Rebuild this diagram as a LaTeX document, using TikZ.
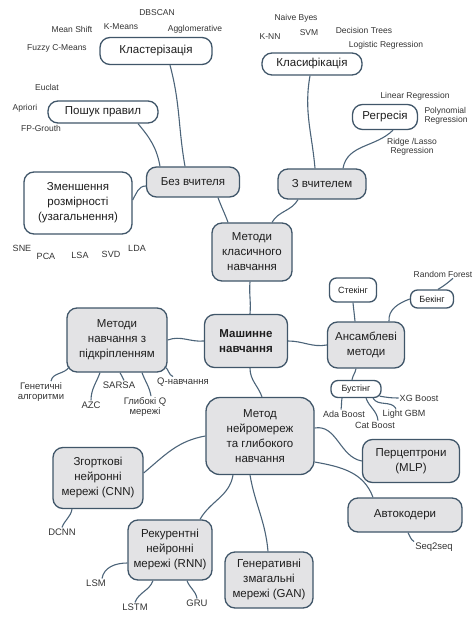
\documentclass[tikz,border=0pt]{standalone}
\usepackage{fontspec}
\setmainfont{Liberation Sans}
\definecolor{edgec}{HTML}{405669}
\definecolor{boxfill}{HTML}{E3E3E5}
\definecolor{linec}{HTML}{4C6479}
\definecolor{txtc}{HTML}{1E1E1E}
\definecolor{lblc}{HTML}{333333}
\begin{document}
\begin{tikzpicture}[x=1pt,y=-1pt,
  box/.style={draw=edgec, line width=1.3pt, rounded corners=10pt, fill=boxfill, align=center,
    font=\fontsize{11.5}{15}\selectfont, text=txtc, inner sep=2pt},
  wbox/.style={box, fill=white},
  sbox/.style={wbox, font=\fontsize{9}{11}\selectfont, rounded corners=7pt},
  lbl/.style={font=\fontsize{8.5}{9.5}\selectfont, text=lblc, align=center, inner sep=1pt},
  lblm/.style={lbl, font=\fontsize{9}{10}\selectfont},
  lblb/.style={lbl, font=\fontsize{9.5}{10.5}\selectfont},
  con/.style={draw=linec, line width=1.1pt}]
\useasboundingbox (0,0) rectangle (472,617);

% white category nodes
\node[wbox, minimum width=112pt, minimum height=27pt] (klast) at (156,51) {Кластерізація};
\node[wbox, minimum width=110pt, minimum height=22pt] (poshuk) at (103,112) {Пошук правил};
\node[wbox, minimum width=108pt, minimum height=62pt] (zmen) at (78,203) {Зменшення\\розмірності\\(узагальнення)};
\node[wbox, minimum width=100pt, minimum height=22pt] (klas) at (312,64) {Класифікація};
\node[wbox, minimum width=65pt, minimum height=25pt] (regr) at (385,117) {Регресія};
\node[sbox, minimum width=47pt, minimum height=24pt] (stek) at (353,290) {Стекінг};
\node[sbox, minimum width=43pt, minimum height=18pt] (bek) at (432,299) {Бекінг};
\node[sbox, minimum width=50pt, minimum height=17pt] (bust) at (356,389) {Бустінг};

% grey nodes
\node[box, minimum width=93pt, minimum height=30pt] (bez) at (193,182) {Без вчителя};
\node[box, minimum width=88pt, minimum height=30pt] (zv) at (322,184) {З вчителем};
\node[box, minimum width=80pt, minimum height=58pt] (metclas) at (252,252) {Методи\\класичного\\навчання};
\node[box, minimum width=83pt, minimum height=53pt, font=\fontsize{11.5}{15}\selectfont\bfseries] (mash) at (246,341) {Машинне\\навчання};
\node[box, minimum width=100pt, minimum height=64pt] (rl) at (117,340) {Методи\\навчання з\\підкріпленням};
\node[box, minimum width=77pt, minimum height=46pt] (ans) at (366,345) {Ансамблеві\\методи};
\node[box, minimum width=108pt, minimum height=77pt, rounded corners=14pt] (metnn) at (260,436) {Метод\\нейромереж\\та глибокого\\навчання};
\node[box, minimum width=97pt, minimum height=43pt] (perc) at (411,461) {Перцептрони\\(MLP)};
\node[box, minimum width=114pt, minimum height=34pt] (avto) at (405,515) {Автокодери};
\node[box, minimum width=88pt, minimum height=56pt] (gan) at (269,580) {Генеративні\\змагальні\\мережі (GAN)};
\node[box, minimum width=90pt, minimum height=61pt] (cnn) at (98,478) {Згорткові\\нейронні\\мережі (CNN)};
\node[box, minimum width=84pt, minimum height=60pt] (rnn) at (170,550) {Рекурентні\\нейронні\\мережі (RNN)};

% labels: clustering
\node[lbl] (dbscan) at (157,13) {DBSCAN};
\node[lbl] (kmeans) at (121,27) {K-Means};
\node[lbl] (meansh) at (72,29) {Mean Shift};
\node[lbl] (aggl) at (195,29) {Agglomerative};
\node[lbl] (fuzzy) at (57,48) {Fuzzy C-Means};
% labels: rules
\node[lbl] (euclat) at (47,87) {Euclat};
\node[lbl] (apriori) at (25,108) {Apriori};
\node[lbl] (fpg) at (41,128) {FP-Grouth};
% labels: classification
\node[lbl] (nbayes) at (296,18) {Naive Byes};
\node[lbl] (knn) at (270,37) {K-NN};
\node[lbl] (svm) at (309,33) {SVM};
\node[lbl] (dtree) at (364,30) {Decision Trees};
\node[lbl] (logreg) at (386,45) {Logistic Regression};
% labels: regression
\node[lbl] (linreg) at (415,96) {Linear Regression};
\node[lbl, align=left] (polyreg) at (446,116) {Polynomial\\Regression};
\node[lbl] (ridge) at (412,147) {Ridge /Lasso\\Regression};
% labels: dimension reduction
\node[lblm] (sne) at (22,248) {SNE};
\node[lblm] (pca) at (46,256) {PCA};
\node[lblm] (lsa) at (80,255) {LSA};
\node[lblm] (svd) at (111,254) {SVD};
\node[lblm] (lda) at (137,248) {LDA};
% labels: RL
\node[lblb] (gen) at (41,392) {Генетичні\\алгоритми};
\node[lblb] (azc) at (91,405) {AZC};
\node[lblb] (sarsa) at (119,385) {SARSA};
\node[lblb] (glq) at (145,407) {Глибокі Q\\мережі};
\node[lblb] (qn) at (183,382) {Q-навчання};
% labels: ensembles
\node[lbl] (rf) at (443,274) {Random Forest};
\node[lblm] (xg) at (419,398) {XG Boost};
\node[lblm] (lgbm) at (404,414) {Light GBM};
\node[lblm] (ada) at (344,414) {Ada Boost};
\node[lblm] (catb) at (375,425) {Cat Boost};
% labels: NN
\node[lblb] (dcnn) at (62,532) {DCNN};
\node[lblb] (lsm) at (96,583) {LSM};
\node[lblb] (lstm) at (135,607) {LSTM};
\node[lblb] (gru) at (197,603) {GRU};
\node[lblb] (seq) at (434,547) {Seq2seq};

% connectors
\draw[con] ([xshift=14pt]klast.south) to[out=-75,in=100] ([xshift=-8pt]bez.north);
\draw[con] ([xshift=35pt]poshuk.south) to[out=-50,in=100] ([xshift=-33pt]bez.north);
\draw[con] ([yshift=3pt]zmen.east) to[out=60,in=180] ([yshift=-4pt]bez.west);
\draw[con] ([xshift=25pt]bez.south) to[out=-70,in=110] ([xshift=-24pt]metclas.north);
\draw[con] ([xshift=-2pt]klas.south) to[out=-100,in=95] ([xshift=-7pt]zv.north);
\draw[con] ([xshift=8pt]regr.south) to[out=-135,in=80] ([xshift=21pt]zv.north);
\draw[con] ([xshift=-24pt]zv.south) to[out=-120,in=60] ([xshift=20pt]metclas.north);
\draw[con] ([xshift=-2pt]metclas.south) to[out=-95,in=85] ([xshift=4pt]mash.north);
\draw[con] (rl.east) to[out=20,in=185] (mash.west);
\draw[con] (mash.east) to[out=0,in=190] (ans.west);
\draw[con] ([xshift=4pt]mash.south) to[out=-90,in=110] ([xshift=2pt]metnn.north);
\draw[con] (stek.south) to[out=-85,in=95] ([xshift=-11pt]ans.north);
\draw[con] (bek.west) to[out=200,in=95] ([xshift=23pt]ans.north);
\draw[con] ([xshift=10pt]rf.south) to[out=-140,in=30] ([xshift=6pt]bek.north);
\draw[con] ([xshift=-10pt]ans.south) to[out=-100,in=80] ([xshift=-4pt]bust.north);
\draw[con] ([xshift=-2pt,yshift=2pt]bust.south east) to[out=-10,in=180] (xg.west);
\draw[con] ([xshift=17pt]bust.south) to[out=-60,in=120] ([xshift=-8pt]lgbm.north);
\draw[con] ([xshift=10pt]bust.south) to[out=-70,in=95] ([xshift=3pt]catb.north);
\draw[con] ([xshift=-14pt]bust.south) to[out=-100,in=80] ([xshift=-3pt]ada.north);
\draw[con] ([yshift=8pt]metnn.east) to[out=10,in=170] (perc.west);
\draw[con] ([yshift=-26pt]metnn.east) to[out=-10,in=110] ([xshift=-32pt]avto.north);
\draw[con] ([xshift=3pt]avto.south) to[out=-60,in=150] (seq.north west);
\draw[con] ([xshift=-10pt]metnn.south) to[out=-80,in=95] ([xshift=-1pt]gan.north);
\draw[con] ([xshift=-27pt]metnn.south) to[out=-100,in=60] ([xshift=30pt]rnn.north);
\draw[con] (metnn.west) to[out=190,in=40] ([yshift=5pt]cnn.east);
\draw[con] ([xshift=-26pt]cnn.south) to[out=-100,in=70] (dcnn.north);
\draw[con] ([yshift=-13pt]rnn.west) to[out=180,in=80] ([xshift=6pt]lsm.north);
\draw[con] ([xshift=-17pt]rnn.south) to[out=-110,in=70] (lstm.north);
\draw[con] ([xshift=17pt]rnn.south) to[out=-70,in=100] (gru.north);
\draw[con] ([xshift=3pt,yshift=6pt]rl.south west) to[out=-120,in=80] ([xshift=10pt]gen.north);
\draw[con] ([xshift=-17pt]rl.south) to[out=-110,in=90] (azc.north);
\draw[con] ([xshift=3pt]rl.south) to[out=-75,in=100] ([xshift=5pt]sarsa.north);
\draw[con] ([xshift=25pt]rl.south) to[out=-70,in=100] ([xshift=6pt]glq.north);
\draw[con] ([xshift=-3pt,yshift=6pt]rl.south east) to[out=-30,in=160] ([xshift=-10pt]qn.north);
\end{tikzpicture}
\end{document}
